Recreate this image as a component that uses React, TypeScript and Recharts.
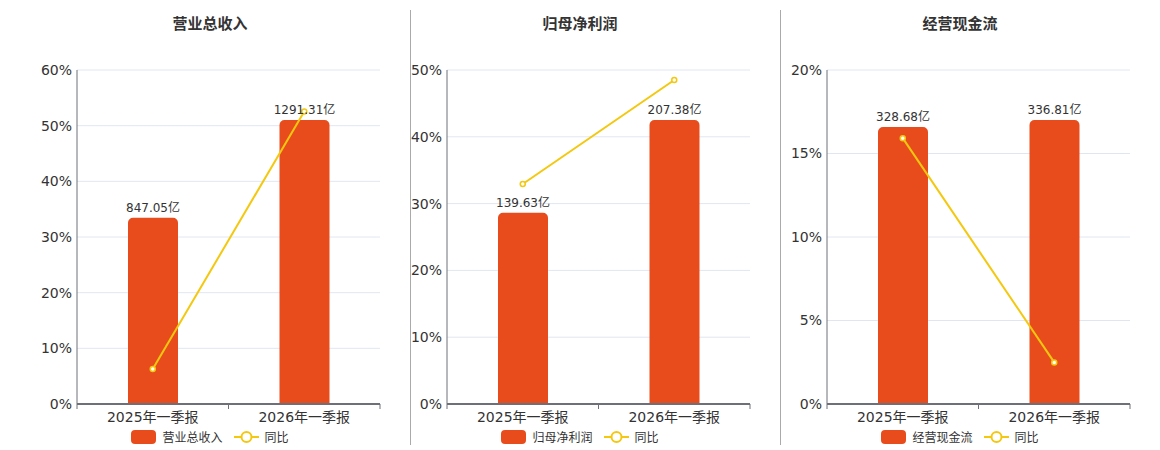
import { ComposedChart, Bar, Line, XAxis, YAxis, CartesianGrid, LabelList } from 'recharts';

// Three small panels: a bar (amount, 亿) plus a YoY line (%) per metric.
const categories = ['2025年一季报', '2026年一季报'];

const titles = ['营业总收入', '归母净利润', '经营现金流'];

const revenue = [847.05, 1291.31];
const revenueYoy = [6.27, 52.55];

const netProfit = [139.63, 207.38];
const netProfitYoy = [32.94, 48.5];

const cashFlow = [328.68, 336.81];
const cashFlowYoy = [15.92, 2.49];

const pctTicks = [
  [0, 10, 20, 30, 40, 50, 60],
  [0, 10, 20, 30, 40, 50],
  [0, 5, 10, 15, 20],
];

const BAR_COLOR = '#E84C1C';
const LINE_COLOR = '#F3C80F';
const FONT = '"DejaVu Sans", "Noto Sans CJK SC", sans-serif';
const AXIS_COLOR = '#6E7079';
const TICK_GAP = 8;

// category label plus a small tick mark on each band boundary
function CategoryTick(props: any) {
  const { x, y, payload, index, visibleTicksCount } = props;
  const half = payload.offset ?? 0;
  const top = y - TICK_GAP;
  return (
    <g>
      <line x1={x - half} y1={top} x2={x - half} y2={top + 5} stroke={AXIS_COLOR} />
      {index === visibleTicksCount - 1 && (
        <line x1={x + half} y1={top} x2={x + half} y2={top + 5} stroke={AXIS_COLOR} />
      )}
      <text x={x} y={y} dy="0.71em" textAnchor="middle" fill="#333" fontSize={14} fontFamily={FONT}>
        {payload.value}
      </text>
    </g>
  );
}

interface PanelProps {
  title: string;
  amounts: number[];
  yoy: number[];
  ticks: number[];
  left: number;
}

function Panel({ title, amounts, yoy, ticks, left }: PanelProps) {
  const data = categories.map((c, i) => ({ name: c, amount: amounts[i], yoy: yoy[i] }));
  const barMax = Math.max(...amounts) / 0.85;
  const center = left + 210;

  return (
    <>
      <div
        style={{
          position: 'absolute',
          left: center - 100,
          width: 200,
          top: 12,
          textAlign: 'center',
          fontFamily: FONT,
          fontWeight: 'bold',
          fontSize: 15,
          color: '#333',
        }}
      >
        {title}
      </div>
      <div style={{ position: 'absolute', left, top: 0 }}>
        <ComposedChart
          width={390}
          height={450}
          data={data}
          margin={{ top: 70, right: 10, bottom: 20, left: 0 }}
          barCategoryGap={0}
        >
          <CartesianGrid yAxisId="pct" stroke="#E0E6F1" vertical={false} />
          <XAxis
            dataKey="name"
            height={26}
            axisLine={{ stroke: AXIS_COLOR, strokeWidth: 2 }}
            tickLine={false}
            tickSize={0}
            tickMargin={TICK_GAP}
            tick={<CategoryTick />}
          />
          <YAxis
            yAxisId="pct"
            domain={[ticks[0], ticks[ticks.length - 1]]}
            ticks={ticks}
            width={77}
            tickSize={0}
            tickMargin={5}
            tickFormatter={(v: number) => `${v}%`}
            axisLine={{ stroke: AXIS_COLOR }}
            tickLine={false}
            tick={{ fill: '#333', fontSize: 14, fontFamily: FONT }}
          />
          <YAxis yAxisId="amt" orientation="right" width={0} hide domain={[0, barMax]} />
          <Bar
            yAxisId="amt"
            dataKey="amount"
            fill={BAR_COLOR}
            barSize={50}
            radius={[5, 5, 0, 0]}
            isAnimationActive={false}
          >
            <LabelList
              dataKey="amount"
              position="top"
              offset={6}
              formatter={(v: number) => `${v}亿`}
              style={{ fill: '#333', fontSize: 12, fontFamily: FONT }}
            />
          </Bar>
          <Line
            yAxisId="pct"
            dataKey="yoy"
            stroke={LINE_COLOR}
            strokeWidth={2}
            dot={{ r: 2.5, fill: '#fff', stroke: LINE_COLOR, strokeWidth: 1.5 }}
            isAnimationActive={false}
          />
        </ComposedChart>
      </div>
      <div
        style={{
          position: 'absolute',
          left: center - 120,
          width: 240,
          top: 428,
          display: 'flex',
          justifyContent: 'center',
          alignItems: 'center',
          fontFamily: FONT,
          fontSize: 12,
          color: '#333',
        }}
      >
        <span style={{ width: 25, height: 14, borderRadius: 4, background: BAR_COLOR, display: 'inline-block' }} />
        <span style={{ marginLeft: 6 }}>{title}</span>
        <svg width={25} height={14} style={{ marginLeft: 11 }}>
          <line x1={0} y1={7} x2={25} y2={7} stroke={LINE_COLOR} strokeWidth={2} />
          <circle cx={12.5} cy={7} r={5} fill="#fff" stroke={LINE_COLOR} strokeWidth={2} />
        </svg>
        <span style={{ marginLeft: 6 }}>同比</span>
      </div>
    </>
  );
}

export default function App() {
  return (
    <div style={{ position: 'absolute', left: 0, top: 0, width: 1160, height: 450, background: '#fff' }}>
      <Panel title={titles[0]} amounts={revenue} yoy={revenueYoy} ticks={pctTicks[0]} left={0} />
      <Panel title={titles[1]} amounts={netProfit} yoy={netProfitYoy} ticks={pctTicks[1]} left={370} />
      <Panel title={titles[2]} amounts={cashFlow} yoy={cashFlowYoy} ticks={pctTicks[2]} left={750} />
      <div style={{ position: 'absolute', left: 410, top: 10, width: 1, height: 435, background: '#AAA' }} />
      <div style={{ position: 'absolute', left: 780, top: 10, width: 1, height: 435, background: '#AAA' }} />
    </div>
  );
}
